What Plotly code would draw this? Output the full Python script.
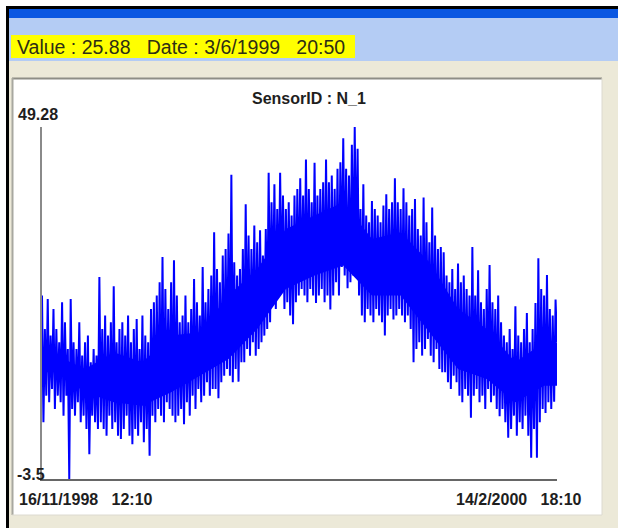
import plotly.graph_objects as go

# ---- data (upper and lower swings of the sensor trace) ----
highs = [
    24, 19, 23.5, 18, 22, 19, 17, 23, 20, 16,
    23.5, 17, 16, 20, 15, 17, 18, 14, 16, 15,
    26.8, 19, 21, 18, 20, 25.4, 17, 19, 20, 18,
    21, 17, 19, 20.5, 16, 21, 18, 17, 22, 23,
    24, 26, 29.8, 25, 22, 26, 29.3, 24, 20, 21,
    24, 20, 22, 26.5, 23, 21, 28.3, 23, 25, 27,
    33.5, 28, 26, 30, 31, 33.3, 42.1, 29, 27, 28,
    31, 37.7, 33, 31, 34.5, 32, 33.8, 30, 34, 42.4,
    38, 40.7, 37, 42.4, 39, 37, 38, 36, 39, 40,
    41.6, 39, 44.4, 40, 38, 43.9, 39, 40, 41, 44.4,
    41, 42, 40, 43, 44, 47.6, 43, 42, 46.6, 49.28,
    46, 37, 40.7, 36, 35, 38.2, 37, 36, 35, 37.5,
    39.2, 37, 38, 41.6, 38, 37, 40.1, 38, 36, 37,
    38.5, 34, 33, 38.7, 35, 32, 37.2, 33, 31, 31.3,
    30.5, 27, 26, 28, 25, 28.8, 26, 27, 25, 24,
    31.3, 24, 27.8, 23, 22, 25, 28.6, 23, 22, 24,
    20, 18, 17, 19, 16, 22.4, 18, 17, 19, 21.4,
    17, 19, 22.9, 29.6, 25, 24, 27.1, 22, 21, 23.4,
]
lows = [
    5, 9, 8, 10, 7, 9, 8, 6, 9, -3.5,
    7, 6, 8, 5, 6, 4, 0.2, 6, 5, 4,
    5, 4, 3, 6, 4, 5, 3, 2.5, 4, 6,
    3, 1.7, 4, 3, 5, 2, 4, 0, 6, 5,
    7, 6, 5, 8, 7, 6, 5, 6, 7, 4.7,
    8, 6, 9, 7, 10, 8, 9, 11, 9, 10,
    10, 8.6, 11, 12, 13, 12, 11, 13, 11.1, 14,
    14, 16, 15, 17, 15, 16, 17, 18, 19, 20,
    23, 22, 24, 25, 22, 23, 21, 19.7, 23, 24,
    25, 24, 23, 25, 24, 22.9, 24, 25, 23, 24,
    21.9, 24, 26, 24, 28.3, 27, 25.1, 26, 27, 28,
    24, 21, 20, 22, 21, 20, 22, 21, 20, 18,
    21, 22, 20.4, 21, 22, 21, 20, 21, 19, 14,
    16, 17, 15, 16, 17.5, 15, 14, 16, 13, 12.5,
    12.5, 11, 10, 12, 11, 9, 8, 10, 9, 5.7,
    9, 10, 8, 9, 7, 10, 8, 9, 7, 5.9,
    7, 5, 2.7, 4, 6, 3, 5, 4, 6, 3,
    -0.3, 4, -0.3, 5, 7, 6.4, 8, 7, 8.1, 17,
]
# fully solid middle of the trace, one reading per block of ten swings
core_top = [15, 13, 15.5, 14, 18, 18.5, 24, 28, 34, 36, 38, 32.5, 33.5, 29, 22, 19, 14, 17]
core_bottom = [12.5, 9.5, 8, 7.5, 9.5, 12, 14.5, 19, 25, 27, 28.5, 24, 24, 18.5, 13, 11.5, 8, 10.5]

Y_MIN, Y_MAX = -3.5, 49.28
y_min_label = "-3.5"
y_max_label = "49.28"
start_label = "16/11/1998\u00a0\u00a0\u00a012:10"
end_label = "14/2/2000\u00a0\u00a0\u00a018:10"
title_text = "SensorID : N_1"
status_text = "Value : 25.88\u00a0\u00a0\u00a0Date : 3/6/1999\u00a0\u00a0\u00a020:50"

values = []
for h, l in zip(highs, lows):
    values.append(h)
    values.append(l)
xs = list(range(len(values)))

# core band positions: centre of each block of ten swings, padded to both ends
block = len(values) / len(core_top)
band_x = [0] + [block * (i + 0.5) for i in range(len(core_top))] + [len(values) - 1]
band_top = [core_top[0]] + core_top + [core_top[-1]]
band_bot = [core_bottom[0]] + core_bottom + [core_bottom[-1]]

# ---- layout geometry (pixels) ----
W, H = 618, 528
L, R, T, B = 42, 557, 127, 479


def PX(x):
    return (x - L) / (R - L)


def PY(y):
    return (B - y) / (B - T)


def rect(x0, y0, x1, y1, fill, line=None, lw=0):
    return dict(type="rect", xref="paper", yref="paper",
                x0=PX(x0), x1=PX(x1), y0=PY(y1), y1=PY(y0),
                fillcolor=fill, line=dict(color=line or fill, width=lw),
                layer="below")


def hline(x0, x1, y, color, w):
    return dict(type="line", xref="paper", yref="paper",
                x0=PX(x0), x1=PX(x1), y0=PY(y), y1=PY(y),
                line=dict(color=color, width=w), layer="below")


def vline(x, y0, y1, color, w):
    return dict(type="line", xref="paper", yref="paper",
                x0=PX(x), x1=PX(x), y0=PY(y0), y1=PY(y1),
                line=dict(color=color, width=w), layer="below")


shapes = [
    rect(9, 9, W, 18, "#0A57E2"),
    rect(9, 18, W, 61, "#B4CCF4"),
    rect(9, 61, W, H, "#ECE9D8"),
    rect(11, 35, 355, 58, "#FFFF00"),
    rect(12, 78, 602, 515, "#FFFFFF"),
    hline(12, 602, 78.5, "#8E8E86", 2),
    vline(12.5, 78, 515, "#A8A8A0", 2),
    vline(602, 78, 515, "#DCDAD0", 1),
    hline(12, 602, 515, "#DCDAD0", 1),
    rect(6, 6, W, 9, "#000000"),
    rect(6, 6, 9, H, "#000000"),
]

FONT = "Liberation Sans, Arial, sans-serif"
annotations = [
    dict(text=status_text, x=PX(15), y=PY(47), xanchor="left", yanchor="middle",
         font=dict(family=FONT, size=19.5, color="#2E2E14")),
    dict(text="<b>" + title_text + "</b>", x=PX(309), y=PY(98), xanchor="center", yanchor="middle",
         font=dict(family=FONT, size=16, color="#1E1E1E")),
    dict(text="<b>" + y_max_label + "</b>", x=PX(16), y=PY(114), xanchor="left", yanchor="middle",
         font=dict(family=FONT, size=16, color="#1E1E1E")),
    dict(text="<b>" + y_min_label + "</b>", x=PX(15), y=PY(474), xanchor="left", yanchor="middle",
         font=dict(family=FONT, size=16, color="#1E1E1E")),
    dict(text="<b>" + start_label + "</b>", x=PX(17), y=PY(499), xanchor="left", yanchor="middle",
         font=dict(family=FONT, size=16, color="#1E1E1E")),
    dict(text="<b>" + end_label + "</b>", x=PX(584), y=PY(499), xanchor="right", yanchor="middle",
         font=dict(family=FONT, size=16, color="#1E1E1E")),
]
for a in annotations:
    a.update(xref="paper", yref="paper", showarrow=False)

fig = go.Figure()
fig.add_trace(go.Scatter(x=band_x + band_x[::-1], y=band_top + band_bot[::-1],
                         mode="lines", fill="toself", fillcolor="#0000FF",
                         line=dict(color="#0000FF", width=0), hoverinfo="skip"))
fig.add_trace(go.Scatter(x=xs, y=values, mode="lines",
                         line=dict(color="#0000FF", width=2),
                         hoverinfo="skip"))
fig.update_layout(
    width=W, height=H,
    margin=dict(l=L, r=W - R, t=T, b=H - B, pad=0),
    paper_bgcolor="#FFFFFF",
    plot_bgcolor="rgba(0,0,0,0)",
    showlegend=False,
    shapes=shapes,
    annotations=annotations,
    xaxis=dict(range=[0, len(values) - 1], showgrid=False, zeroline=False,
               showticklabels=False, ticks="", showline=True,
               linecolor="#666666", linewidth=2, fixedrange=True),
    yaxis=dict(range=[Y_MIN, Y_MAX], showgrid=False, zeroline=False,
               showticklabels=False, ticks="", showline=True,
               linecolor="#8A8A8A", linewidth=2, fixedrange=True),
)
fig.write_html(
    "out.html",
    config={"displayModeBar": False},
    post_script="document.body.style.margin='0';document.body.style.overflow='hidden';",
)
